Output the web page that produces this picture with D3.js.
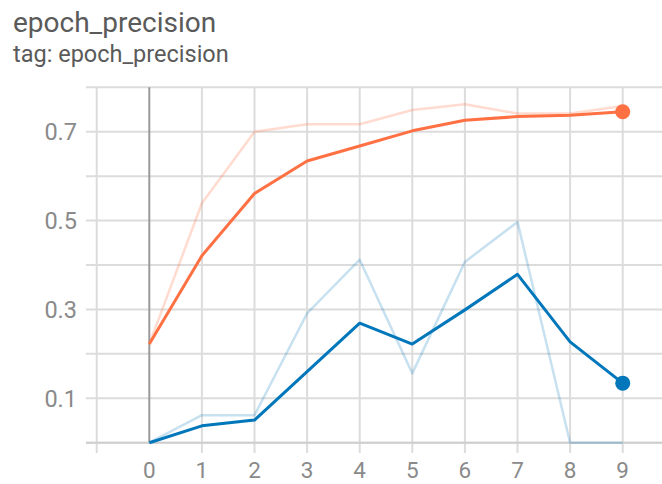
<!DOCTYPE html>
<html><head><meta charset="utf-8">
<script src="https://cdn.jsdelivr.net/npm/d3@7/dist/d3.min.js"></script>
<style>html,body{margin:0;padding:0;background:#fff;}svg{display:block;font-family:Roboto,"Noto Sans",sans-serif;}</style>
</head><body>
<svg id="c" width="662" height="484"></svg>
<script>
const epochs = [0,1,2,3,4,5,6,7,8,9];
const orangeRaw = [0.222,0.539,0.700,0.717,0.717,0.749,0.762,0.741,0.741,0.758];
const orangeSmooth = [0.222,0.421,0.561,0.634,0.668,0.702,0.726,0.734,0.737,0.745];
const blueRaw = [0.0,0.062,0.062,0.291,0.412,0.156,0.407,0.497,0.0,0.0];
const blueSmooth = [0.0,0.038,0.051,0.160,0.269,0.222,0.299,0.379,0.227,0.134];
const xTicks = [-1,0,1,2,3,4,5,6,7,8,9];
const yTicks = [0,0.1,0.2,0.3,0.4,0.5,0.6,0.7,0.8];
const yLabels = [0.1,0.3,0.5,0.7];
const title = "epoch_precision";
const subtitle = "tag: epoch_precision";

const svg = d3.select("#c");
const x = d3.scaleLinear().domain([-1,10]).range([96.7,675.3]);
const y = d3.scaleLinear().domain([0,0.8]).range([442.7,87.3]);
const gridColor = "#dcdcdc";

svg.append("text").attr("x",13).attr("y",32).attr("font-size",28).attr("fill","#5a5a5a").text(title);
svg.append("text").attr("x",13).attr("y",62).attr("font-size",23.5).attr("fill","#5a5a5a").text(subtitle);

svg.append("g").selectAll("line").data(yTicks).join("line")
  .attr("x1",86).attr("x2",662).attr("y1",d=>y(d)).attr("y2",d=>y(d))
  .attr("stroke",gridColor).attr("stroke-width",2);
svg.append("g").selectAll("line").data(xTicks).join("line")
  .attr("x1",d=>x(d)).attr("x2",d=>x(d)).attr("y1",y(0.8)).attr("y2",d=>d===0?y(0):453)
  .attr("stroke",d=>d===0?"#9a9a9a":gridColor).attr("stroke-width",2);
svg.append("line").attr("x1",86).attr("x2",662).attr("y1",y(0)).attr("y2",y(0))
  .attr("stroke","#cfcfcf").attr("stroke-width",2);

svg.append("g").selectAll("text").data(yLabels).join("text")
  .attr("x",77).attr("y",d=>y(d)).attr("dy","0.35em").attr("text-anchor","end")
  .attr("font-size",23.5).attr("fill","#8a8a8a").text(d=>d3.format(".1f")(d));
svg.append("g").selectAll("text").data(epochs).join("text")
  .attr("x",d=>x(d)).attr("y",478).attr("text-anchor","middle")
  .attr("font-size",22.5).attr("fill","#8a8a8a").text(d=>d);

const line = d3.line().x((d,i)=>x(epochs[i])).y(d=>y(d));
function draw(data,color,op,w){
  svg.append("path").datum(data).attr("d",line).attr("fill","none")
    .attr("stroke",color).attr("stroke-opacity",op).attr("stroke-width",w)
    .attr("stroke-linejoin","round");
}
draw(orangeRaw,"#ff7043",0.25,2.5);
draw(blueRaw,"#0077bb",0.22,2.5);
draw(orangeSmooth,"#ff7043",1,3);
draw(blueSmooth,"#0077bb",1,3);
svg.append("circle").attr("cx",x(9)).attr("cy",y(orangeSmooth[9])).attr("r",7.5).attr("fill","#ff7043");
svg.append("circle").attr("cx",x(9)).attr("cy",y(blueSmooth[9])).attr("r",7.5).attr("fill","#0077bb");
</script>
</body></html>
